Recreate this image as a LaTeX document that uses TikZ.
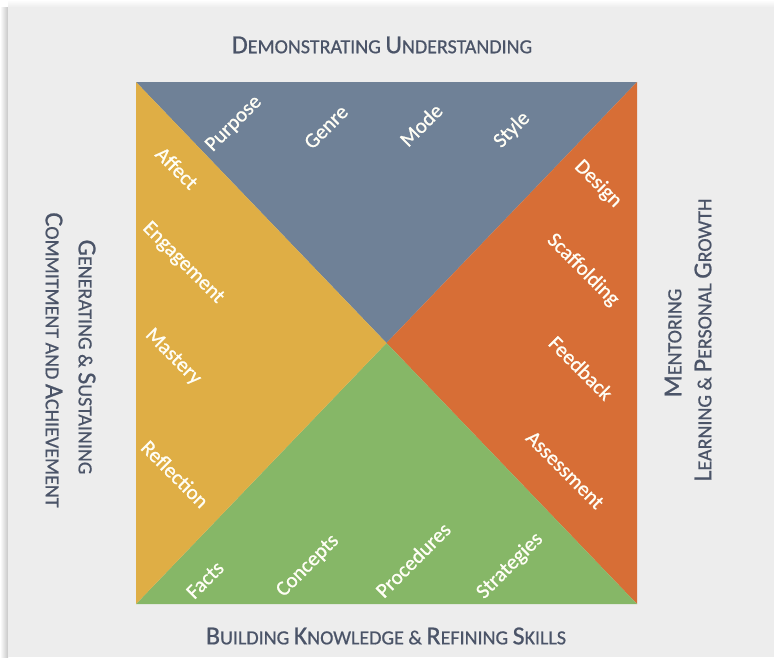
\documentclass[tikz,border=0pt]{standalone}
\usepackage{fontspec}
\setmainfont{Carlito}
\newfontfamily\itemfont{Carlito}[FakeBold=0.9]
\newfontfamily\titlefont{Carlito}[FakeBold=0.7]
\definecolor{titlecol}{HTML}{4B5468}
\definecolor{cblue}{HTML}{6F8197}
\definecolor{cyellow}{HTML}{DFAE45}
\definecolor{corange}{HTML}{D76E36}
\definecolor{cgreen}{HTML}{86B767}
\definecolor{cardgray}{HTML}{EDEDED}
\newcommand\BL[1]{{\fontsize{26}{30}\selectfont #1}}
\begin{document}
\begin{tikzpicture}[x=1pt,y=-1pt,
  item/.style={text=white!96!yellow, font=\itemfont\fontsize{21}{25}\selectfont, inner sep=0pt},
  up/.style={item, rotate=45},
  down/.style={item, rotate=-45},
  title/.style={text=titlecol, font=\titlefont\fontsize{20}{24}\selectfont, inner sep=0pt}]
\useasboundingbox (0,0) rectangle (774,657);
% background card with soft shadow
\fill[white] (0,0) rectangle (774,657);
\shade[left color=white, right color=black!22] (0,7) rectangle (8,657);
\shade[top color=white, bottom color=black!7] (8,0) rectangle (774,7);
\fill[cardgray] (8,7) rectangle (774,657);
% square corners and centre
\coordinate (tl) at (136,82);
\coordinate (tr) at (637,82);
\coordinate (br) at (637,604);
\coordinate (bl) at (136,604);
\coordinate (o) at (386.5,343);
% four triangles
\fill[cblue]   (tl) -- (tr) -- (o) -- cycle;
\fill[corange] (tr) -- (br) -- (o) -- cycle;
\fill[cgreen]  (br) -- (bl) -- (o) -- cycle;
\fill[cyellow] (bl) -- (tl) -- (o) -- cycle;
% top triangle
\node[up] (purpose) at (234,124) {Purpose};
\node[up] (genre)   at (326,127) {Genre};
\node[up] (mode)    at (421,125) {Mode};
\node[up] (style)   at (512,130) {Style};
% left triangle
\node[down] (affect)     at (177,168) {Affect};
\node[down] (engagement) at (183,263) {Engagement};
\node[down] (mastery)    at (173,357) {Mastery};
\node[down] (reflection) at (175,474) {Reflection};
% right triangle
\node[down] (design)      at (598,184) {Design};
\node[down] (scaffolding) at (583,270) {Scaffolding};
\node[down] (feedback)    at (581,368) {Feedback};
\node[down] (assessment)  at (565,470) {Assessment};
% bottom triangle
\node[up] (facts)      at (205,580) {Facts};
\node[up] (concepts)   at (308,566) {Concepts};
\node[up] (procedures) at (413,560) {Procedures};
\node[up] (strategies) at (510,566) {Strategies};
% titles
\node[title] (ttop) at (382,45) {\BL{D}EMONSTRATING \BL{U}NDERSTANDING};
\node[title] (tbot) at (386,636) {\BL{B}UILDING \BL{K}NOWLEDGE \& \BL{R}EFINING \BL{S}KILLS};
\node[title, rotate=-90] (tleft1) at (87,357) {\BL{G}ENERATING \& \BL{S}USTAINING};
\node[title, rotate=-90] (tleft2) at (54,360) {\BL{C}OMMITMENT AND \BL{A}CHIEVEMENT};
\node[title, rotate=90] (tright1) at (673,343) {\BL{M}ENTORING};
\node[title, rotate=90] (tright2) at (703,340) {\BL{L}EARNING \& \BL{P}ERSONAL \BL{G}ROWTH};
\end{tikzpicture}
\end{document}
